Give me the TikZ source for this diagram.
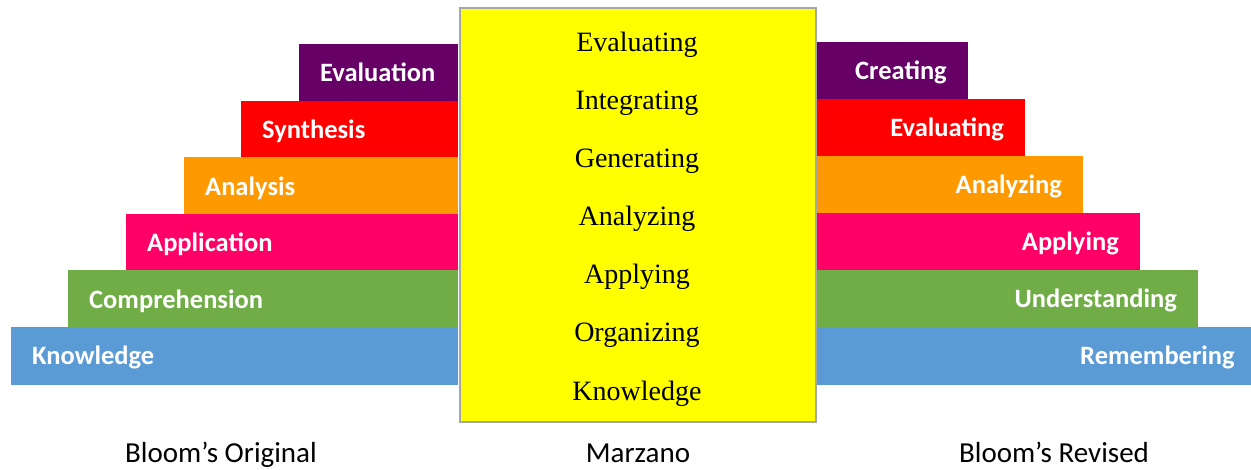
\documentclass[tikz,border=0pt]{standalone}
\usepackage{fontspec}
\newfontfamily\calib{Carlito}
\newfontfamily\goudy{Liberation Serif}
\definecolor{bpurple}{HTML}{660066}
\definecolor{bred}{HTML}{FF0000}
\definecolor{borange}{HTML}{FF9900}
\definecolor{bpink}{HTML}{FF0066}
\definecolor{bgreen}{HTML}{70AD47}
\definecolor{bblue}{HTML}{5B9BD5}
\definecolor{myellow}{HTML}{FFFF00}
\definecolor{mborder}{HTML}{A6A6A6}
\tikzset{
  barlabel/.style={text=white, inner sep=0pt, font=\calib\bfseries\fontsize{26.5}{30}\selectfont},
  mzlabel/.style={inner sep=0pt, font=\goudy\fontsize{28}{32}\selectfont},
  caption/.style={inner sep=0pt, font=\calib\fontsize{29}{34}\selectfont}
}
\begin{document}
\begin{tikzpicture}[x=1pt, y=-1pt]
    \useasboundingbox (0,0) rectangle (1251,470);

    % Draw bars for Bloom's original
    \foreach \i/\lab/\col/\xl/\yt/\yb in {0/Knowledge/bblue/11/327/385, 1/Comprehension/bgreen/68/270.5/327,
        2/Application/bpink/126/214/270.5, 3/Analysis/borange/184/157.5/214,
        4/Synthesis/bred/241/101/157.5, 5/Evaluation/bpurple/299/44/101} {
        \fill[\col] (\xl,\yt) rectangle (458,\yb);
        \node[barlabel, anchor=base west] (orig\i) at (\xl+21,\yt+38) {\lab};
    }

    % Draw bars for Bloom's revised
    \foreach \i/\lab/\col/\xr/\yt/\yb in {0/Remembering/bblue/1256/327/385, 1/Understanding/bgreen/1198/270/327,
        2/Applying/bpink/1140/213/270, 3/Analyzing/borange/1083/156/213,
        4/Evaluating/bred/1025/99/156, 5/Creating/bpurple/968/42/99} {
        \fill[\col] (814,\yt) rectangle (\xr,\yb);
        \node[barlabel, anchor=base east] (rev\i) at (\xr-21,\yt+38) {\lab};
    }

    % Draw Marzano box
    \node[draw=mborder, line width=2pt, fill=myellow, minimum width=356, minimum height=413,
        anchor=north west, inner sep=0pt] (marzano) at (458.5,7.5) {};
    \foreach \t [count=\k from 0] in {Evaluating, Integrating, Generating, Analyzing,
        Applying, Organizing, Knowledge} {
        \node[mzlabel, anchor=base] (mz\k) at (637,52+58*\k) {\t};
    }

    % Draw captions
    \node[caption, anchor=base] (capl) at (221,462) {Bloom’s Original};
    \node[caption, anchor=base] (capm) at (638,462) {Marzano};
    \node[caption, anchor=base] (capr) at (1054,462) {Bloom’s Revised};
\end{tikzpicture}
\end{document}
